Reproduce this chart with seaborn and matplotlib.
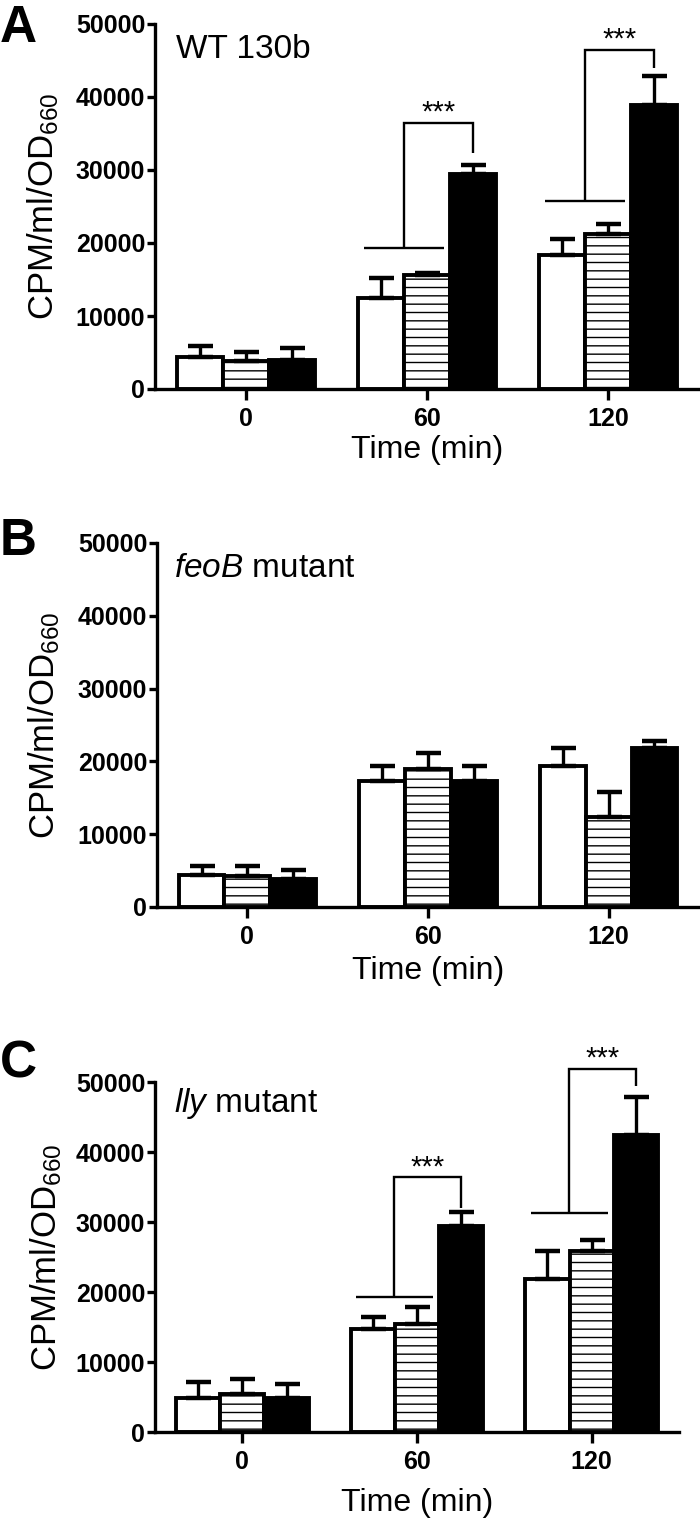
import numpy as np
import pandas as pd
import matplotlib
matplotlib.use('Agg')
import matplotlib.pyplot as plt
from matplotlib.container import BarContainer
import seaborn as sns

# ---------------- data ----------------
times = ['0', '60', '120']
conditions = ['Condition 1', 'Condition 2', 'Condition 3']
panel_letters = ['A', 'B', 'C']
strain_labels = ['WT 130b', r'$\mathit{feoB}$ mutant', r'$\mathit{lly}$ mutant']
yticks = [0, 10000, 20000, 30000, 40000, 50000]

A_cond1 = [4400, 12400, 18300]
A_cond1_err = [1550, 2800, 2300]
A_cond2 = [3800, 15600, 21200]
A_cond2_err = [1300, 300, 1400]
A_cond3 = [4000, 29400, 38900]
A_cond3_err = [1600, 1300, 4000]

B_cond1 = [4350, 17300, 19300]
B_cond1_err = [1300, 2100, 2600]
B_cond2 = [4250, 18900, 12400]
B_cond2_err = [1400, 2200, 3400]
B_cond3 = [3900, 17300, 21900]
B_cond3_err = [1150, 2100, 900]

C_cond1 = [4900, 14650, 21900]
C_cond1_err = [2300, 1850, 4000]
C_cond2 = [5400, 15400, 25900]
C_cond2_err = [2200, 2500, 1600]
C_cond3 = [4900, 29500, 42500]
C_cond3_err = [1900, 2000, 5400]

# significance brackets: (time index, base level, top level, drop level)
A_sig = [(1, 19300, 36500, 32300), (2, 25700, 46500, 44000)]
B_sig = []
C_sig = [(1, 19300, 36400, 32000), (2, 31300, 51900, 49400)]
sig_text = '***'

panels = [
    (A_cond1, A_cond2, A_cond3, A_cond1_err, A_cond2_err, A_cond3_err, A_sig),
    (B_cond1, B_cond2, B_cond3, B_cond1_err, B_cond2_err, B_cond3_err, B_sig),
    (C_cond1, C_cond2, C_cond3, C_cond1_err, C_cond2_err, C_cond3_err, C_sig),
]

# ---------------- style ----------------
sns.set_style('ticks')
plt.rcParams.update({
    'font.family': ['Liberation Sans', 'DejaVu Sans'],
    'mathtext.fontset': 'custom',
    'mathtext.rm': 'Liberation Sans',
    'mathtext.it': 'Liberation Sans:italic',
    'mathtext.bf': 'Liberation Sans:bold',
    'hatch.linewidth': 1.0,
    'axes.linewidth': 2.4,
    'text.color': 'black',
    'axes.labelcolor': 'black',
    'axes.edgecolor': 'black',
    'xtick.color': 'black',
    'ytick.color': 'black',
})

W, H = 700, 1522
fig = plt.figure(figsize=(W / 100, H / 100), dpi=100)

rects = [
    (155, 24, 699, 389),
    (157, 543, 699, 907),
    (155, 1082, 679, 1432),
]
ylabel_x = [-0.172, -0.176, -0.174]
xlabel_pad = [3, 5, 10]
strain_pos = [(0.039, 0.907), (0.031, 0.907), (0.036, 0.914)]
letter_base = [42, 555, 1078]
EDGE_LW = 2.8

for k, (c1, c2, c3, e1, e2, e3, sig) in enumerate(panels):
    l, t, r, b = rects[k]
    ax = fig.add_axes([l / W, 1 - b / H, (r - l) / W, (b - t) / H])

    df = pd.DataFrame({
        'time': times * 3,
        'condition': [conditions[0]] * 3 + [conditions[1]] * 3 + [conditions[2]] * 3,
        'value': list(c1) + list(c2) + list(c3),
    })
    errs = [e1, e2, e3]

    sns.barplot(data=df, x='time', y='value', hue='condition', order=times,
                hue_order=conditions, palette=['white', 'white', 'black'],
                saturation=1, width=0.76, edgecolor='black', linewidth=EDGE_LW,
                errorbar=None, legend=False, ax=ax, zorder=2)

    bar_conts = [c for c in ax.containers if isinstance(c, BarContainer)]
    centers = []
    for i, cont in enumerate(bar_conts):
        xs, hs, row = [], [], []
        for p in cont.patches:
            xs.append(p.get_x() + p.get_width() / 2)
            hs.append(p.get_height())
            row.append(p)
            if i == 1:
                p.set_hatch('--')
                try:
                    p.set_hatchcolor('#555555')
                except Exception:
                    pass
        centers.append(row)
        ax.errorbar(xs, hs, yerr=[np.zeros(len(hs)), errs[i]], fmt='none',
                    ecolor='black', elinewidth=2.4, capsize=9, capthick=3.2,
                    zorder=3)

    # significance brackets
    for (ti, base, top, drop) in sig:
        pw = centers[0][ti]
        ps = centers[1][ti]
        pb = centers[2][ti]
        x_left = pw.get_x() + 0.03
        x_right = ps.get_x() + ps.get_width() - 0.035
        x_mid = (x_left + x_right) / 2
        x_black = pb.get_x() + pb.get_width() / 2
        ax.plot([x_left, x_right], [base, base], color='black', lw=1.7,
                clip_on=False, zorder=4, solid_capstyle='butt')
        ax.plot([x_mid, x_mid, x_black, x_black], [base, top, top, drop],
                color='black', lw=1.7, clip_on=False, zorder=4,
                solid_joinstyle='miter', solid_capstyle='butt')
        ax.text((x_mid + x_black) / 2, top + 300, sig_text, ha='center',
                va='baseline', fontsize=21, clip_on=False)

    ax.set_xlim(-0.5, 2.5)
    ax.set_ylim(0, 50000)
    ax.set_yticks(yticks)
    ax.set_yticklabels([str(v) for v in yticks])
    ax.set_xticks(range(len(times)))
    ax.set_xticklabels(times)
    for lab in ax.get_yticklabels() + ax.get_xticklabels():
        lab.set_fontweight('bold')
    ax.tick_params(axis='y', length=6, width=2.4, pad=1, labelsize=18,
                   direction='out')
    ax.tick_params(axis='x', length=8, width=2.4, pad=5, labelsize=18,
                   direction='out')
    sns.despine(ax=ax)
    for s in ['left', 'bottom']:
        ax.spines[s].set_linewidth(2.4)

    ax.set_ylabel(r'CPM/ml/OD$_{660}$', fontsize=25)
    ax.yaxis.set_label_coords(ylabel_x[k], 0.5)
    ax.set_xlabel('Time (min)', fontsize=23, labelpad=xlabel_pad[k])

    sx, sy = strain_pos[k]
    ax.text(sx, sy, strain_labels[k], transform=ax.transAxes, fontsize=24,
            ha='left', va='baseline')

    fig.text(0 / W, 1 - letter_base[k] / H, panel_letters[k], fontsize=37,
             fontweight='bold', ha='left', va='baseline')

fig.savefig('out.png', dpi=100, facecolor='white')
